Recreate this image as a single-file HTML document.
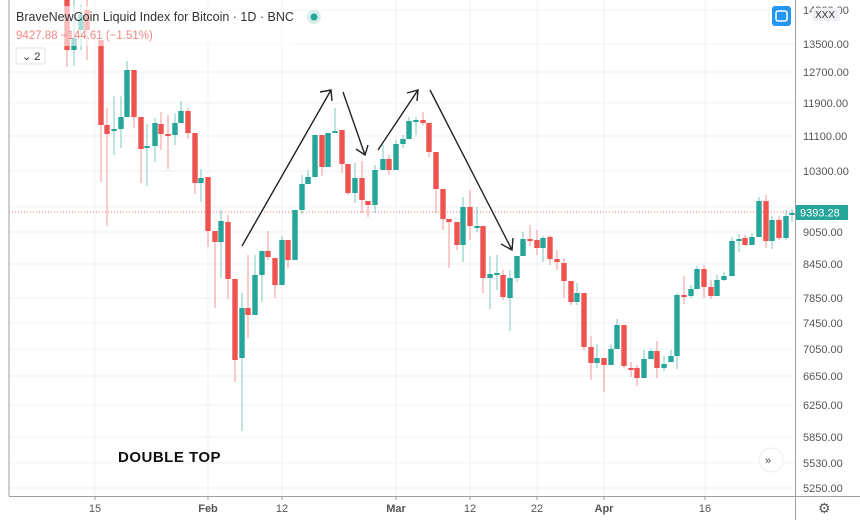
<!DOCTYPE html>
<html><head><meta charset="utf-8"><style>
html,body{margin:0;padding:0;background:#fff;}
svg{display:block;font-family:"Liberation Sans",sans-serif;}
</style></head><body>
<svg id="s" width="860" height="520" viewBox="0 0 860 520" xmlns="http://www.w3.org/2000/svg">
<rect width="860" height="520" fill="#fff"/>
<g id="grid" stroke="#eef1f4" stroke-width="1"></g>
<line x1="9" y1="0" x2="9" y2="496" stroke="#9aa0a6" stroke-width="1"/>
<line x1="795.5" y1="0" x2="795.5" y2="520" stroke="#9aa0a6" stroke-width="1"/>
<line x1="9" y1="496.5" x2="860" y2="496.5" stroke="#9aa0a6" stroke-width="1"/>
<line x1="9" y1="212" x2="795" y2="212" stroke="#ef5350" stroke-width="1" stroke-dasharray="1,2" opacity="0.8"/>
<g id="c"></g>
<g id="ax" font-size="11" fill="#555"></g>
<g stroke="#222" stroke-width="1.4" fill="none">
<line x1="242" y1="246" x2="331" y2="90"/><polyline points="320,92 331,90 332,101"/>
<line x1="343" y1="92" x2="365" y2="155"/><polyline points="356,149 365,155 368,145"/>
<line x1="378" y1="150" x2="418" y2="90"/><polyline points="407,93 418,90 417,101"/>
<line x1="430" y1="90" x2="512" y2="250"/><polyline points="501,244 512,250 513,238"/>
</g>
<rect x="10" y="6" width="290" height="40" fill="#fff" opacity="0.6"/>
<text x="16" y="21" font-size="12.5" fill="#333">BraveNewCoin Liquid Index for Bitcoin · 1D · BNC</text>
<circle cx="314" cy="17" r="7" fill="#d7efec"/><circle cx="314" cy="17" r="3.5" fill="#26a69a"/>
<text x="16" y="39" font-size="11.5" fill="#ef5350" opacity="0.7">9427.88  −144.61 (−1.51%)</text>
<rect x="16" y="48" width="29" height="16" rx="2" fill="#fff" stroke="#e0e3eb"/>
<text x="22" y="60" font-size="11" fill="#333">⌄ 2</text>
<rect x="772" y="6" width="19" height="20" rx="3" fill="#2196f3"/>
<rect x="776" y="11" width="11" height="10" rx="2" fill="none" stroke="#fff" stroke-width="1.5"/>
<rect x="812" y="8" width="28" height="13" rx="2" fill="#f0f2f5"/>
<text x="815" y="18" font-size="10" fill="#333">XXX</text>
<rect x="796" y="205" width="52" height="15" fill="#26a69a"/>
<text x="800" y="216.5" font-size="11" fill="#fff">9393.28</text>
<text x="118" y="462" font-size="15" font-weight="bold" fill="#111" letter-spacing="0.5">DOUBLE TOP</text>
<circle cx="771" cy="460" r="12" fill="#fff" stroke="#eceff2"/>
<text x="765" y="464" font-size="11" fill="#444">»</text>
<text x="818" y="513" font-size="14" fill="#555">⚙</text>
</svg>
<script>
var NS="http://www.w3.org/2000/svg";
function el(p,t,a,txt){var e=document.createElementNS(NS,t);for(var k in a)e.setAttribute(k,a[k]);if(txt)e.textContent=txt;p.appendChild(e);return e;}
var g=document.getElementById('grid'),ax=document.getElementById('ax'),c=document.getElementById('c');
var ticks=[[14300,10],[13500,44],[12700,72],[11900,103],[11100,136],[10300,171],[9550,207],[9050,232],[8450,264],[7850,298],[7450,323],[7050,349],[6650,376],[6250,405],[5850,437],[5530,463],[5250,488]];
ticks.forEach(function(t){el(g,'line',{x1:9,x2:795,y1:t[1],y2:t[1]});if(t[0]!=9550)el(ax,'text',{x:803,y:t[1]+4},t[0].toFixed(2));});
var xs=[[95,'15'],[208,'Feb'],[282,'12'],[396,'Mar'],[470,'12'],[537,'22'],[604,'Apr'],[705,'16']];
xs.forEach(function(t){el(g,'line',{x1:t[0],x2:t[0],y1:0,y2:496});el(ax,'line',{x1:t[0],x2:t[0],y1:496,y2:500,stroke:'#9aa0a6'});el(ax,'text',{x:t[0],y:512,'text-anchor':'middle','font-weight':(isNaN(t[1])?'bold':'normal')},t[1]);});
// x, open, close, high, low (pixel y)
var d=[
[67,0,50,0,67],[74,50,38,0,66],[81,30,15,5,50],[87,10,30,0,60],
[101,40,125,40,182],[107,125,134,108,226],[114,131,129,96,155],[121,129,117,96,148],[127,117,70,61,117],[134,70,117,70,128],
[141,117,149,117,183],[147,148,146,124,186],[155,146,123,118,162],[161,124,134,112,150],[168,134,136,115,169],[175,135,123,113,145],
[181,123,111,101,123],[188,111,133,108,139],[195,133,183,133,194],[201,183,178,169,202],[208,177,231,177,247],[215,231,242,231,308],
[221,242,221,210,278],[228,222,279,215,299],[235,279,360,279,382],[242,358,308,293,431],[248,308,315,255,338],[255,315,275,255,315],
[262,275,251,251,302],[268,251,257,231,260],[275,258,285,258,298],[282,285,240,236,285],[288,240,260,240,268],[295,260,210,210,260],
[302,210,184,175,214],[308,184,177,170,184],[315,177,135,135,177],[322,135,167,135,176],[328,167,133,133,167],[335,133,131,108,133],
[342,130,164,130,173],[348,164,193,164,195],[355,193,178,163,203],[362,178,200,161,213],[368,201,205,201,217],[375,205,170,165,213],
[383,170,159,145,170],[389,159,170,155,175],[396,170,144,140,170],[403,144,139,135,148],[409,139,121,117,139],[416,121,120,117,135],
[423,120,123,112,125],[429,123,152,123,157],[436,152,189,152,213],[443,189,219,189,230],[449,219,222,219,268],[457,222,245,222,250],
[463,245,207,197,262],[470,207,226,190,240],[477,227,226,207,232],[483,226,278,226,293],[490,278,274,256,309],[497,274,273,255,290],
[503,275,297,270,300],[510,298,278,270,331],[517,278,256,256,282],[523,256,239,232,256],[530,239,240,225,246],[537,240,248,230,255],
[543,248,238,236,262],[550,237,259,235,265],[557,259,262,250,270],[564,263,281,258,298],[571,281,302,281,305],[577,302,293,283,305],
[584,293,347,293,350],[591,347,363,336,380],[597,363,358,344,368],[604,358,365,358,392],[611,365,349,344,365],[617,349,325,319,349],
[624,325,366,325,368],[631,368,369,362,377],[637,368,378,365,386],[644,378,359,350,378],[651,359,351,349,359],[657,351,368,341,378],
[664,368,364,356,371],[671,362,356,350,362],[677,356,295,293,369],[684,295,296,276,304],[691,296,289,285,298],[697,289,269,266,289],
[704,269,287,265,298],[711,287,296,280,299],[717,296,280,275,296],[724,280,276,272,281],[732,276,241,237,276],[739,240,239,234,252],
[745,238,245,235,246],[752,245,237,233,245],[759,237,201,197,237],[766,201,241,195,248],[772,241,220,216,249],[779,220,238,216,240],
[786,238,216,210,240],[792,215,213,209,222]];
d.forEach(function(k){var up=k[2]<k[1];var col=up?'#26a69a':'#ef5350';
el(c,'line',{x1:k[0],x2:k[0],y1:k[3],y2:k[4],stroke:col,'stroke-width':1,opacity:0.6});
var t=Math.min(k[1],k[2]),h=Math.max(2,Math.abs(k[1]-k[2]));
el(c,'rect',{x:k[0]-2.7,y:t,width:5.4,height:h,fill:col});});
</script>
</body></html>
